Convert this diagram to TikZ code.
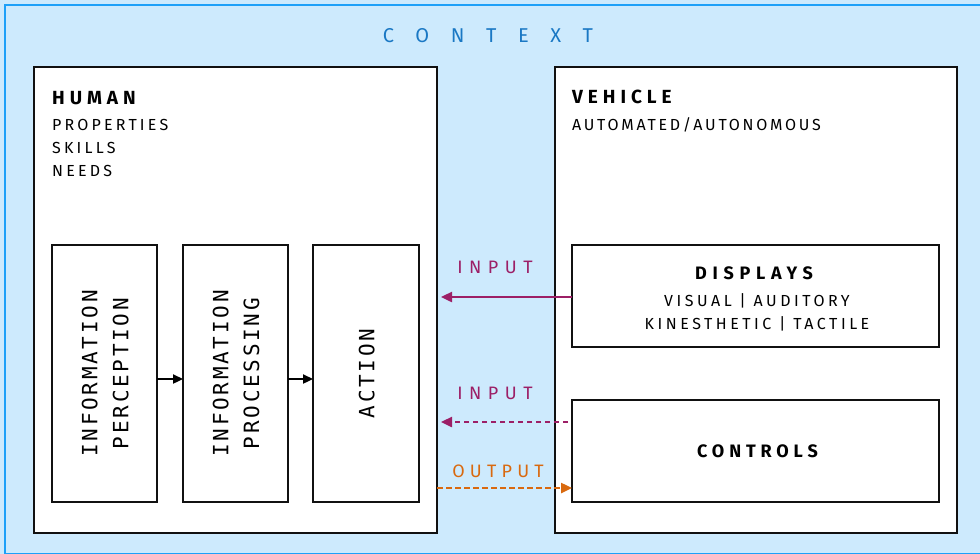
\documentclass[tikz,border=0pt]{standalone}
\usepackage{fontspec}
\setmainfont{Fira Sans}
\newfontfamily\monofam{DejaVu Sans Mono}
\usetikzlibrary{arrows.meta}
\definecolor{ctxfill}{HTML}{CDEAFD}
\definecolor{ctxline}{HTML}{1EA0F8}
\definecolor{ctxtext}{HTML}{1A78C4}
\definecolor{inputcol}{HTML}{9C1F66}
\definecolor{outputcol}{HTML}{D9690F}
\definecolor{boxline}{HTML}{111111}

\begin{document}
\begin{tikzpicture}[x=1pt,y=-1pt,
  box/.style 2 args={draw=boxline, line width=2.6pt, fill=white, inner sep=0pt,
    outer sep=0pt, anchor=north west, minimum width=#1, minimum height=#2},
  heading/.style={anchor=base west, inner sep=0pt,
    font=\fontsize{19}{19}\selectfont\bfseries\addfontfeature{LetterSpace=26}},
  itemtext/.style={anchor=base west, inner sep=0pt,
    font=\fontsize{16}{16}\selectfont\addfontfeature{LetterSpace=20}},
  blockhead/.style={anchor=base, inner sep=0pt,
    font=\fontsize{18}{18}\selectfont\bfseries\addfontfeature{LetterSpace=32}},
  blocktext/.style={anchor=base, inner sep=0pt,
    font=\fontsize{16}{16}\selectfont\addfontfeature{LetterSpace=22}},
  vtext/.style={rotate=90, anchor=base, inner sep=0pt,
    font=\monofam\fontsize{21}{21}\selectfont\addfontfeature{LetterSpace=13}},
  flowlabel/.style={anchor=base, inner sep=0pt,
    font=\fontsize{18}{18}\selectfont\addfontfeature{LetterSpace=36}},
  step arrow/.style={draw=black, line width=2.3pt, -{Triangle[length=10pt,width=9pt]}},
  link/.style={line width=2.4pt, -{Triangle[length=11pt,width=10pt]}},
  dashlink/.style={link, dash pattern=on 5.5pt off 3.5pt}
]
\useasboundingbox (0,0) rectangle (980,554);

% context frame
\fill[ctxfill] (0,0) rectangle (980,554);
\draw[ctxline, line width=2.8pt, fill=ctxfill] (5,5) rectangle (986,554.5);
\node[anchor=base, inner sep=0pt, text=ctxtext,
  font=\fontsize{20}{20}\selectfont\addfontfeature{LetterSpace=108}]
  (context) at (488,42) {CONTEXT};

% human side
\node[box={403pt}{466pt}] (human) at (34,67) {};
\node[heading] (humanhead) at (52,104) {HUMAN};
\node[itemtext] (props) at (52,130) {PROPERTIES};
\node[itemtext] (skills) at (52,153) {SKILLS};
\node[itemtext] (needs) at (52,176) {NEEDS};

\node[box={105pt}{257pt}] (perception) at (52,245) {};
\node[box={105pt}{257pt}] (processing) at (183,245) {};
\node[box={106pt}{257pt}] (action) at (313,245) {};

\node[vtext] (perc1) at (97.3,373.5) {INFORMATION};
\node[vtext] (perc2) at (128.3,373.5) {PERCEPTION};
\node[vtext] (proc1) at (228.3,373.5) {INFORMATION};
\node[vtext] (proc2) at (259,373.5) {PROCESSING};
\node[vtext] (act1) at (374.3,373.5) {ACTION};

\draw[step arrow] (perception.east |- 0,379) -- (processing.west |- 0,379);
\draw[step arrow] (processing.east |- 0,379) -- (action.west |- 0,379);

% vehicle side
\node[box={402pt}{466pt}] (vehicle) at (555,67) {};
\node[heading] (vehiclehead) at (572,103.5) {VEHICLE};
\node[itemtext, font=\fontsize{16}{16}\selectfont\addfontfeature{LetterSpace=17}]
  (automation) at (572,130) {AUTOMATED/AUTONOMOUS};

\node[box={367pt}{102pt}] (displays) at (572,245) {};
\node[blockhead] (displayshead) at (754,279) {DISPLAYS};
\node[blocktext] (disp1) at (757,306) {VISUAL | AUDITORY};
\node[blocktext] (disp2) at (757,329) {KINESTHETIC | TACTILE};

\node[box={367pt}{102pt}] (controls) at (572,400) {};
\node[blockhead, font=\fontsize{18}{18}\selectfont\bfseries\addfontfeature{LetterSpace=27}]
  (controlshead) at (757.5,457) {CONTROLS};

% exchanges between human and vehicle
\coordinate (inA) at (441,297);
\coordinate (inB) at (441,422);
\coordinate (inBstart) at (568,422);
\coordinate (outstart) at (437,488);

\node[flowlabel, text=inputcol] (inlabelA) at (495,273) {INPUT};
\draw[link, inputcol] (displays.west |- inA) -- (inA);

\node[flowlabel, text=inputcol] (inlabelB) at (495,399) {INPUT};
\draw[dashlink, inputcol] (inBstart) -- (inB);

\node[flowlabel, text=outputcol, font=\fontsize{18}{18}\selectfont\addfontfeature{LetterSpace=29}]
  (outlabel) at (498,477) {OUTPUT};
\draw[dashlink, outputcol] (outstart) -- (controls.west |- outstart);
\end{tikzpicture}
\end{document}
